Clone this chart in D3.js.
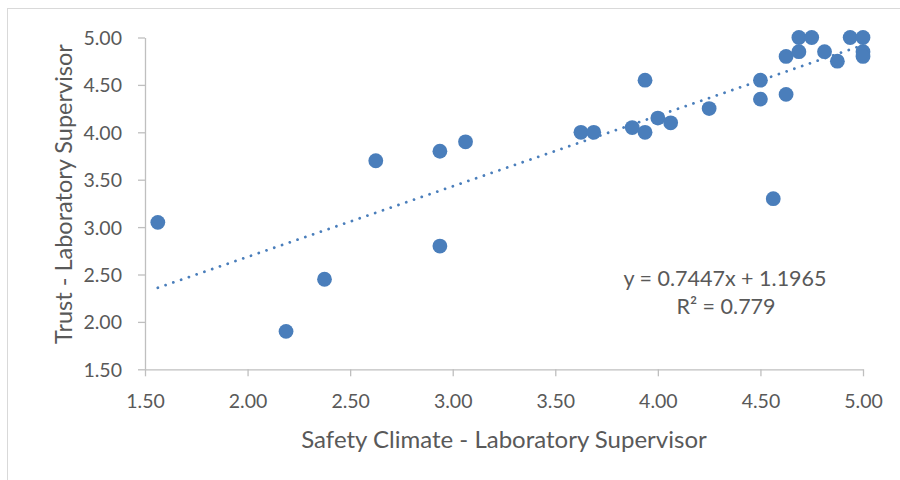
<!DOCTYPE html>
<html>
<head>
<meta charset="utf-8">
<script src="https://cdn.jsdelivr.net/npm/d3@7"></script>
<style>
  html, body { margin: 0; padding: 0; background: #fff; }
  svg { display: block; }
  text { font-family: Lato, "Open Sans", sans-serif; fill: #595959; }
</style>
</head>
<body>
<svg id="chart" width="900" height="480"></svg>
<script>
// Safety climate score (x) vs. trust score (y) for laboratory supervisors
const safetyClimate = [
  1.5625, 2.1875, 2.375, 2.625, 2.9375, 2.9375, 3.0625,
  3.625, 3.6875, 3.875, 3.9375, 3.9375, 4.0, 4.0625, 4.25,
  4.5, 4.5, 4.5625, 4.625, 4.625, 4.6875, 4.6875, 4.75,
  4.8125, 4.875, 4.9375, 5.0, 5.0, 5.0
];
const trust = [
  3.05, 1.90, 2.45, 3.70, 3.80, 2.80, 3.90,
  4.00, 4.00, 4.05, 4.00, 4.55, 4.15, 4.10, 4.25,
  4.55, 4.35, 3.30, 4.40, 4.80, 4.85, 5.00, 5.00,
  4.85, 4.75, 5.00, 5.00, 4.85, 4.80
];
const tickValues = [1.5, 2.0, 2.5, 3.0, 3.5, 4.0, 4.5, 5.0];

// Linear trendline
const slope = 0.7447;
const intercept = 1.1965;
const rSquared = 0.779;

const xTitle = "Safety Climate - Laboratory Supervisor";
const yTitle = "Trust - Laboratory Supervisor";

const svg = d3.select("#chart");
const plot = { left: 145, right: 863, top: 37.5, bottom: 369.3 };
const blue = "#4a7ebb";
const axisGray = "#bfbfbf";

// outer chart border (runs off the canvas on the right and bottom)
svg.append("rect")
  .attr("x", 7.5).attr("y", 8.5)
  .attr("width", 920).attr("height", 500)
  .attr("fill", "none").attr("stroke", "#d9d9d9").attr("stroke-width", 1);

const x = d3.scaleLinear().domain([1.5, 5.0]).range([plot.left, plot.right]);
const y = d3.scaleLinear().domain([1.5, 5.0]).range([plot.bottom, plot.top]);
const fmt = d3.format(".2f");

const xAxis = svg.append("g")
  .attr("transform", `translate(0,${plot.bottom})`)
  .call(d3.axisBottom(x).tickValues(tickValues).tickFormat(fmt)
    .tickSize(7).tickPadding(18).tickSizeOuter(0));
const yAxis = svg.append("g")
  .attr("transform", `translate(${plot.left},0)`)
  .call(d3.axisLeft(y).tickValues(tickValues).tickFormat(fmt)
    .tickSize(7).tickPadding(16).tickSizeOuter(0));

[xAxis, yAxis].forEach(g => {
  g.select(".domain").attr("stroke", axisGray).attr("stroke-width", 1.3);
  g.selectAll(".tick line").attr("stroke", axisGray).attr("stroke-width", 1.3);
  g.selectAll(".tick text")
    .style("font-family", "Lato, 'Open Sans', sans-serif")
    .style("font-size", "19.5px")
    .attr("fill", "#595959");
});
yAxis.selectAll(".tick text").attr("dy", "0.36em");

// trendline across the observed x range
const xExtent = d3.extent(safetyClimate);
svg.append("line")
  .attr("x1", x(xExtent[0])).attr("y1", y(slope * xExtent[0] + intercept))
  .attr("x2", x(xExtent[1])).attr("y2", y(slope * xExtent[1] + intercept))
  .attr("stroke", blue)
  .attr("stroke-width", 2.8)
  .attr("stroke-linecap", "round")
  .attr("stroke-dasharray", "0.01 8.2");

// data points
svg.append("g").selectAll("circle")
  .data(safetyClimate.map((v, i) => [v, trust[i]]))
  .join("circle")
  .attr("cx", d => x(d[0]))
  .attr("cy", d => y(d[1]))
  .attr("r", 7.4)
  .attr("fill", blue);

// trendline equation
const eq = svg.append("g").attr("text-anchor", "middle")
  .style("font-size", "21.5px");
eq.append("text").attr("x", 725).attr("y", 286)
  .text(`y = ${slope}x + ${intercept}`);
eq.append("text").attr("x", 726).attr("y", 314)
  .text(`R² = ${rSquared}`);

// axis titles
svg.append("text")
  .attr("x", (plot.left + plot.right) / 2).attr("y", 448)
  .attr("text-anchor", "middle")
  .style("font-size", "24px")
  .text(xTitle);
svg.append("text")
  .attr("transform", `translate(72,194) rotate(-90)`)
  .attr("text-anchor", "middle")
  .style("font-size", "23.5px")
  .text(yTitle);
</script>
</body>
</html>
